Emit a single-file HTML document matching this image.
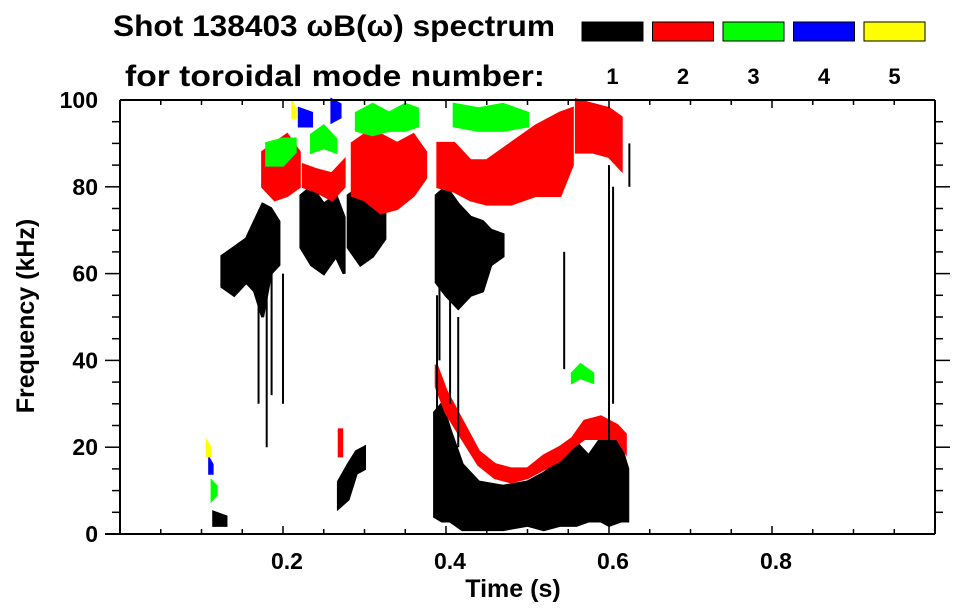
<!DOCTYPE html>
<html><head><meta charset="utf-8"><style>
body{margin:0;background:#fff}
svg{display:block;font-family:"Liberation Sans",sans-serif;font-weight:bold}
</style></head><body>
<svg id="chart" width="963" height="615" viewBox="0 0 963 615">
<text x="113" y="36" font-size="30" textLength="442" lengthAdjust="spacingAndGlyphs">Shot 138403 ωB(ω) spectrum</text>
<text x="125" y="86" font-size="30" textLength="420" lengthAdjust="spacingAndGlyphs">for toroidal mode number:</text>
<g id="legend"></g>
<g id="marks"></g>
<g id="axes"></g>
<text x="513" y="597" font-size="25" text-anchor="middle">Time (s)</text>
<text transform="translate(34,316) rotate(-90)" font-size="25" text-anchor="middle">Frequency (kHz)</text>
</svg>
<script>
const modes = ["1","2","3","4","5"];
const colors = ["#000","#f00","#0f0","#00f","#ff0"];
const xTicks = [0.2,0.4,0.6,0.8];
const yTicks = [0,20,40,60,80,100];
// blobs per mode: each point [time s, low kHz, high kHz]
const mode1 = [
 [[.125,57,64],[.14,55,66],[.155,58,68],[.165,56,72],[.175,50,76],[.185,60,75],[.195,62,72]],
 [[.222,66,78],[.235,62,80],[.25,60,76],[.265,64,78],[.275,60,73]],
 [[.28,66,78],[.295,62,80],[.31,64,78],[.325,68,76]],
 [[.388,58,78],[.40,55,80],[.415,52,76],[.43,55,73],[.445,56,72],[.455,62,70],[.47,64,69]],
 [[.386,4,28],[.395,3,30],[.405,3,24],[.42,1,16],[.44,1,12],[.47,1,11],[.5,2,12],[.52,1,14],[.54,2,17],[.56,2,21],[.575,3,18],[.59,3,22],[.60,2,24],[.615,3,20],[.623,3,15]],
 [[.268,6,12],[.28,8,16],[.29,14,19],[.30,15,20]],
 [[.115,2,5],[.13,2,4]]
];
const mode1Streaks = [[.389,8,55],[.60,20,85],[.605,30,80],[.392,40,60],[.545,38,65],[.625,80,90],[.18,20,58],[.2,30,60],[.17,30,60],[.186,32,60],[.405,30,55],[.415,20,50]];
const mode2 = [
 [[.175,80,88],[.19,77,90],[.205,78,92],[.22,80,88]],
 [[.225,80,85],[.24,79,84],[.26,77,83],[.275,80,86]],
 [[.285,78,90],[.3,77,92],[.32,74,92],[.34,75,90],[.36,78,92],[.375,82,88]],
 [[.39,80,90],[.41,79,90],[.43,77,86],[.45,76,86],[.48,76,90],[.51,78,94],[.54,78,97],[.555,85,98]],
 [[.56,88,100],[.58,88,99],[.6,87,98],[.615,84,96]],
 [[.388,34,39],[.40,28,33],[.42,22,26],[.44,16,19],[.46,13,16],[.48,12,15],[.5,13,15],[.52,15,18],[.54,17,20],[.555,20,22],[.57,22,26],[.59,22,27],[.61,22,25],[.62,19,23]],
 [[.269,18,24],[.272,18,24]]
];
const mode3 = [
 [[.18,85,90],[.2,85,91],[.215,88,91]],
 [[.235,88,92],[.25,89,94],[.265,88,91]],
 [[.29,93,97],[.31,92,99],[.33,93,97],[.35,93,99],[.365,94,98]],
 [[.41,94,99],[.44,93,98],[.47,93,99],[.5,94,97]],
 [[.555,35,37],[.565,36,39],[.58,35,37]],
 [[.113,8,12],[.118,9,11]]
];
const mode4 = [[[.22,94,98],[.235,94,97]],[[.26,95,100],[.27,96,99]],[[.11,14,17],[.113,14,16]]];
const mode5 = [[[.212,96,99],[.215,96,98]],[[.107,18,21],[.11,18,20]]];

const X0=120,X1=935,Y0=534,Y1=100;
const xs=t=>X0+t*(X1-X0);
const ys=f=>Y0-f/100*(Y0-Y1);
const NS="http://www.w3.org/2000/svg";
function mk(tag,attrs,parent){const e=document.createElementNS(NS,tag);for(const k in attrs)e.setAttribute(k,attrs[k]);parent.appendChild(e);return e;}
const marks=document.getElementById('marks'), axes=document.getElementById('axes'), legend=document.getElementById('legend');

const allModes=[mode1,mode2,mode3,mode4,mode5];
allModes.forEach((blobs,mi)=>{
 blobs.forEach(b=>{
  let d="M"+b.map(p=>xs(p[0])+","+ys(p[2])).join("L");
  d+="L"+b.slice().reverse().map(p=>xs(p[0])+","+ys(p[1])).join("L")+"Z";
  const p=mk('path',{d:d,fill:colors[mi],stroke:colors[mi],'stroke-width':3},marks);
  
  
 });
});
mode1Streaks.forEach(s=>{
 const l=mk('line',{x1:xs(s[0]),x2:xs(s[0]),y1:ys(s[1]),y2:ys(s[2]),stroke:'#000','stroke-width':2},marks);
 
 
});

// legend
modes.forEach((m,i)=>{
 const x=582+i*70.5;
 const r=mk('rect',{x:x,y:22,width:61,height:19,fill:colors[i],stroke:'#000','stroke-width':1},legend);
 
 
 const t=mk('text',{x:x+30.5,y:84,'font-size':22,'text-anchor':'middle'},legend);
 t.textContent=m;
 
 
});

// frame
mk('line',{x1:105,x2:X1,y1:Y0,y2:Y0,stroke:'#000','stroke-width':2},axes);
mk('line',{x1:X0,x2:X1,y1:Y1,y2:Y1,stroke:'#000','stroke-width':2},axes);
mk('line',{x1:X0,x2:X0,y1:Y1,y2:Y0,stroke:'#000','stroke-width':2},axes);
mk('line',{x1:X1,x2:X1,y1:Y1,y2:Y0,stroke:'#000','stroke-width':2},axes);
for(let i=1;i<20;i++){
 const t=i*0.05, major=(i%4===0), L=major?8:5, x=xs(t);
 mk('line',{x1:x,x2:x,y1:Y0,y2:Y0-L,stroke:'#000','stroke-width':1.5},axes);
 mk('line',{x1:x,x2:x,y1:Y1,y2:Y1+L,stroke:'#000','stroke-width':1.5},axes);
}
for(let i=1;i<20;i++){
 const f=i*5, major=(i%4===0), y=ys(f);
 mk('line',{x1:X0-(major?15:8),x2:X0,y1:y,y2:y,stroke:'#000','stroke-width':1.5},axes);
 mk('line',{x1:X1,x2:X1+(major?15:8),y1:y,y2:y,stroke:'#000','stroke-width':1.5},axes);
}
xTicks.forEach(v=>{
 const t=mk('text',{x:xs(v)+4,y:569,'font-size':23,'text-anchor':'middle'},axes);
 t.textContent=v.toFixed(1);
 
 
});
yTicks.forEach(v=>{
 const t=mk('text',{x:98,y:ys(v)+8,'font-size':23,'text-anchor':'end'},axes);
 t.textContent=v;
 
 
});
</script>
</body></html>
